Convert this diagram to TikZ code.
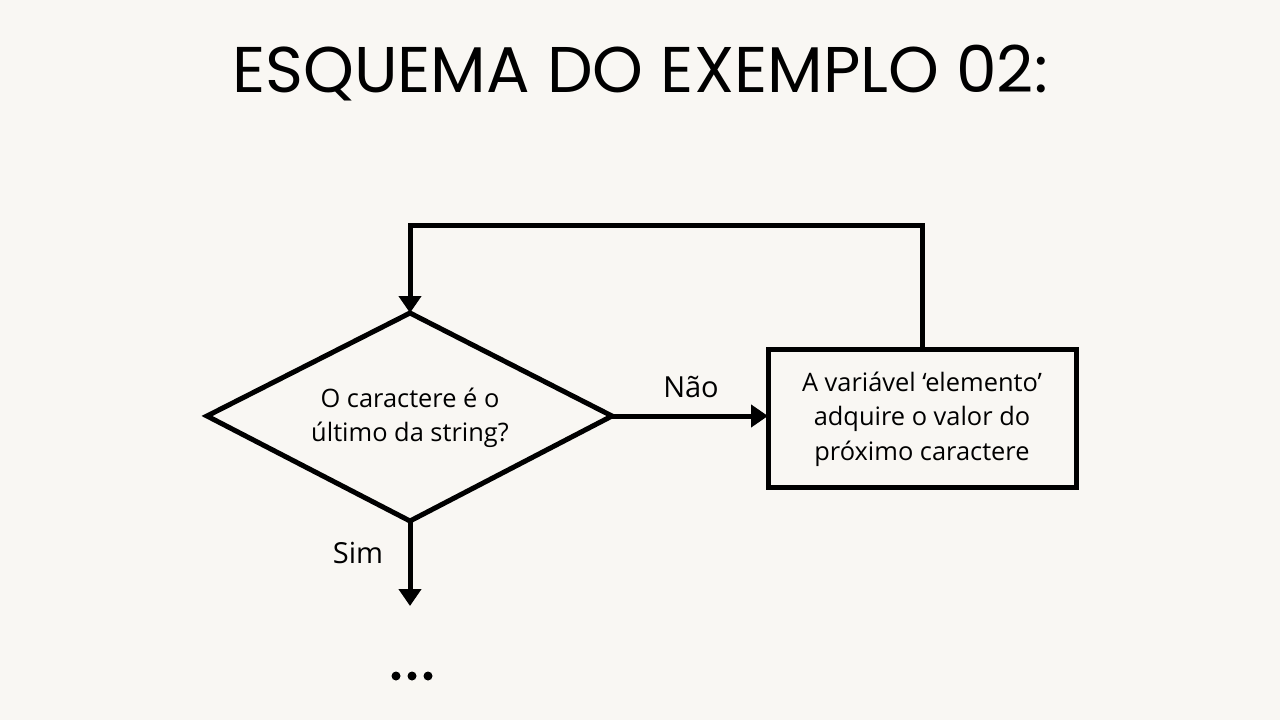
\documentclass[tikz,border=0pt]{standalone}
\usepackage{fontspec}
\setmainfont{Open Sans}
\newfontfamily\titlefont{Poppins}
\usetikzlibrary{arrows.meta,shapes.geometric}
\definecolor{bg}{HTML}{F9F7F3}
\tikzset{
  conn/.style={line width=5pt, -{Triangle[length=17pt,width=22pt]}},
  edge/.style={line width=5pt},
  lbl/.style={font=\fontsize{25.4}{34.5}\selectfont, align=center, inner sep=0pt},
  yn/.style={inner sep=0pt, font=\fontsize{29}{32}\selectfont},
}
\begin{document}
\begin{tikzpicture}[x=1pt,y=-1pt]
\fill[bg] (0,0) rectangle (1280,720);
\useasboundingbox (0,0) rectangle (1280,720);
\node[inner sep=0pt, font=\titlefont\fontsize{64.6}{70}\selectfont] (title) at (640,73) {ESQUEMA DO EXEMPLO 02:};
\coordinate (dl) at (207,416);
\coordinate (dr) at (612,416);
\coordinate (dt) at (410,313);
\coordinate (db) at (410,521);
\draw[edge, line join=miter] (dl) -- (dt) -- (dr) -- (db) -- cycle;
\node[lbl] (q) at (410,418) {O caractere é o\\último da string?};
\draw[edge] (768,349) rectangle (1076,487);
\node[lbl] (box) at (922,419) {A variável ‘elemento’\\adquire o valor do\\próximo caractere};
\coordinate (boxl) at (768,416);
\coordinate (boxt) at (922,349);
\coordinate (c1) at (922,225);
\coordinate (c2) at (410,225);
\coordinate (down) at (410,606);
\draw[conn] (dr) -- (boxl);
\draw[conn, line join=miter] (boxt) -- (c1) -- (c2) -- (dt);
\draw[conn] (db) -- (down);
\node[yn] (nao) at (691,387) {Não};
\node[yn] (sim) at (358,553) {Sim};
\fill (396,676) circle (4.5pt);
\fill (412,676) circle (4.5pt);
\fill (428,676) circle (4.5pt);
\end{tikzpicture}
\end{document}
